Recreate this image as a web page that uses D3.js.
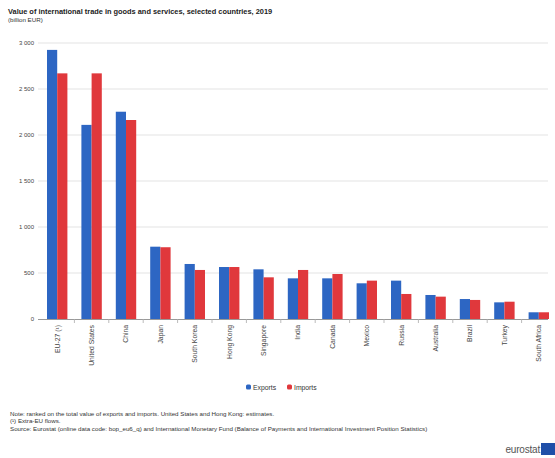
<!DOCTYPE html>
<html>
<head>
<meta charset="utf-8">
<script src="https://cdn.jsdelivr.net/npm/d3@7"></script>
<style>
  html, body { margin: 0; padding: 0; background: #fff; }
  svg { display: block; font-family: Arial, "Liberation Sans", sans-serif; }
</style>
</head>
<body>
<svg id="chart" width="555" height="458"></svg>
<script>
const categories = ["EU-27 (¹)", "United States", "China", "Japan", "South Korea", "Hong Kong", "Singapore", "India", "Canada", "Mexico", "Russia", "Australia", "Brazil", "Turkey", "South Africa"];
const seriesNames = ["Exports", "Imports"];
const exportsValues = [2925, 2110, 2253, 786, 598, 565, 540, 442, 442, 388, 417, 261, 217, 181, 73];
const importsValues = [2670, 2670, 2163, 780, 533, 565, 453, 533, 489, 417, 272, 243, 207, 188, 73];
const yTicks = [0, 500, 1000, 1500, 2000, 2500, 3000];
const colors = ["#2D66C3", "#E0383C"];
const titleText = "Value of international trade in goods and services, selected countries, 2019";
const subtitleText = "(billion EUR)";
const notes = [
  "Note: ranked on the total value of exports and imports. United States and Hong Kong: estimates.",
  "(¹) Extra-EU flows.",
  "Source: Eurostat (online data code: bop_eu6_q) and International Monetary Fund (Balance of Payments and International Investment Position Statistics)"
];

const svg = d3.select("#chart");
const fmt = v => d3.format(",")(v).replace(/,/g, " ");

const x = d3.scaleBand().domain(categories).range([40, 556]).padding(0);
const xs = d3.scaleBand().domain(seriesNames)
  .range([x.step() / 2 - 10.2, x.step() / 2 + 10.2]).padding(0);
const y = d3.scaleLinear().domain([0, 3000]).range([319, 43]);

// title
svg.append("text").attr("x", 8).attr("y", 14)
  .attr("font-size", 7.4).attr("font-weight", "bold").attr("fill", "#222")
  .text(titleText);
svg.append("text").attr("x", 8).attr("y", 22)
  .attr("font-size", 6.2).attr("fill", "#333")
  .text(subtitleText);

// gridlines
svg.append("g").selectAll("line").data(yTicks.filter(d => d > 0)).join("line")
  .attr("x1", 38).attr("x2", 548)
  .attr("y1", d => y(d)).attr("y2", d => y(d))
  .attr("stroke", "#e3e3e3").attr("stroke-width", 1);

// y axis labels
const yAxis = d3.axisLeft(y).tickValues(yTicks).tickFormat(fmt).tickSize(0).tickPadding(0);
const gy = svg.append("g").attr("transform", "translate(34,0)").call(yAxis);
gy.select(".domain").remove();
gy.selectAll("text").attr("font-size", 6).attr("fill", "#444")
  .attr("font-family", "Arial, 'Liberation Sans', sans-serif");

// bars
const rows = categories.map((c, i) => ({ c, vals: [exportsValues[i], importsValues[i]] }));
const groups = svg.append("g").selectAll("g").data(rows).join("g")
  .attr("transform", d => `translate(${x(d.c)},0)`);
groups.selectAll("rect").data(d => d.vals.map((v, j) => ({ s: seriesNames[j], v, j })))
  .join("rect")
  .attr("x", d => xs(d.s))
  .attr("width", xs.bandwidth())
  .attr("y", d => y(d.v))
  .attr("height", d => y(0) - y(d.v))
  .attr("fill", d => colors[d.j]);

// x axis
const gx = svg.append("g").attr("transform", `translate(0,${y(0)})`);
gx.append("line").attr("x1", 38).attr("x2", 548).attr("y1", 0.5).attr("y2", 0.5)
  .attr("stroke", "#999").attr("stroke-width", 1);
gx.selectAll(".tk").data(categories.slice(0, -1)).join("line").attr("class", "tk")
  .attr("x1", d => x(d) + x.step()).attr("x2", d => x(d) + x.step())
  .attr("y1", 0.5).attr("y2", 4).attr("stroke", "#bbb");
gx.selectAll(".lbl").data(categories).join("text").attr("class", "lbl")
  .attr("transform", d => `translate(${x(d) + x.step() / 2 + 2.3},6) rotate(-90)`)
  .attr("text-anchor", "end")
  .attr("font-size", 6.8).attr("fill", "#444")
  .text(d => d);

// legend
const legend = svg.append("g");
const legX = [246, 287];
seriesNames.forEach((s, i) => {
  legend.append("rect").attr("x", legX[i]).attr("y", 384.5).attr("width", 5).attr("height", 5)
    .attr("rx", 1.5).attr("fill", colors[i]);
  legend.append("text").attr("x", legX[i] + 7).attr("y", 389.5)
    .attr("font-size", 6.8).attr("fill", "#333").text(s);
});

// notes
notes.forEach((t, i) => {
  svg.append("text").attr("x", 10).attr("y", 416 + i * 7.3)
    .attr("font-size", 6.2).attr("fill", "#333").text(t);
});

// eurostat logo
svg.append("text").attr("x", 540).attr("y", 452.5).attr("text-anchor", "end")
  .attr("font-size", 10).attr("fill", "#555").attr("letter-spacing", -0.2).text("eurostat");
svg.append("rect").attr("x", 541).attr("y", 443).attr("width", 14).attr("height", 12).attr("fill", "#1F4FA8");
</script>
</body>
</html>
